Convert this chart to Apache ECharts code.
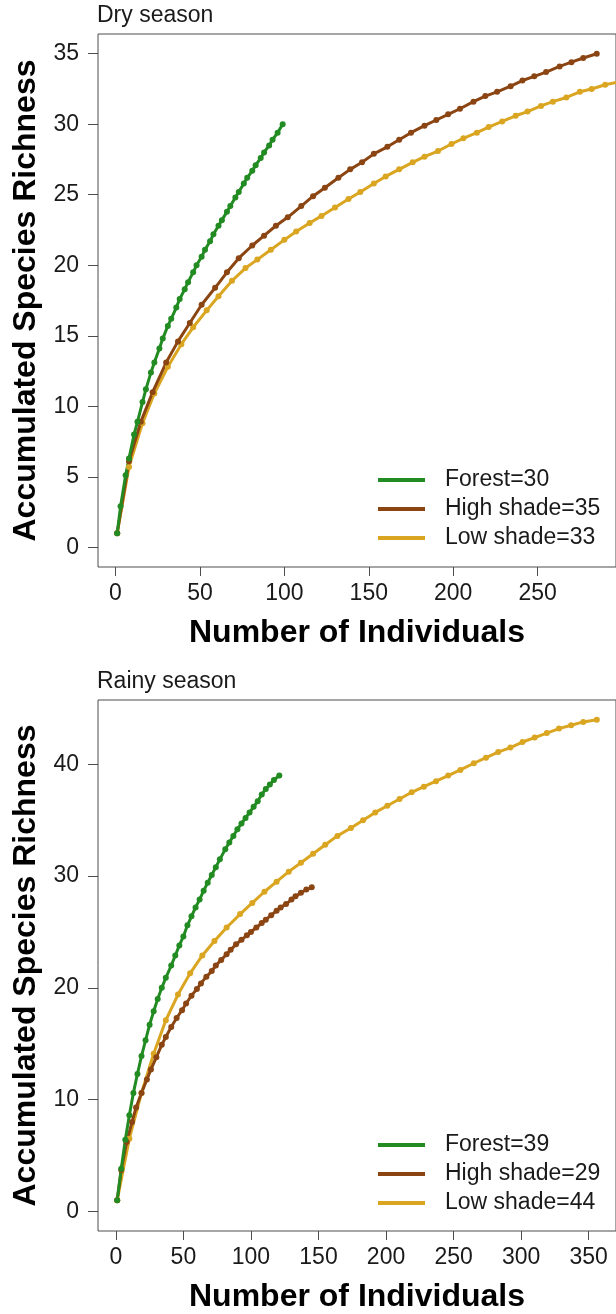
<!DOCTYPE html>
<html>
<head>
<meta charset="utf-8">
<script src="https://cdn.jsdelivr.net/npm/echarts@6/dist/echarts.min.js"></script>
<style>
  html, body { margin: 0; padding: 0; background: #fff; }
  #chart { width: 616px; height: 1314px; }
</style>
</head>
<body>
<div id="chart"></div>
<script>
// Dry season curves (sample size, accumulated richness)
const dryForestX = [1,3,6,8,11,13,16,18,21,23,26,28,31,33,36,38,41,43,46,48,51,53,56,58,61,63,66,68,71,73,76,78,81,83,86,88,91,93,96,99];
const dryForestY = [1.0,2.9,5.1,6.3,8.0,8.9,10.3,11.2,12.4,13.1,14.1,14.8,15.7,16.2,17.0,17.6,18.3,18.8,19.5,20.0,20.6,21.1,21.7,22.2,22.8,23.2,23.8,24.2,24.8,25.2,25.8,26.2,26.7,27.1,27.6,28.0,28.5,28.9,29.4,30.0];

const dryHighX = [1,8,15,22,30,37,44,51,59,66,73,81,88,95,102,110,117,124,132,139,146,153,161,168,175,183,190,197,204,212,219,226,234,241,248,255,263,270,277,285];
const dryHighY = [1.0,6.1,8.9,11.0,13.1,14.6,15.9,17.2,18.4,19.5,20.5,21.4,22.1,22.8,23.4,24.2,24.9,25.5,26.2,26.8,27.3,27.9,28.4,28.9,29.4,29.9,30.3,30.7,31.1,31.6,32.0,32.3,32.7,33.1,33.4,33.7,34.1,34.4,34.7,35.0];

const dryLowX = [1,8,16,23,31,39,46,54,61,69,77,84,92,100,107,115,122,130,138,145,153,160,168,176,183,191,199,206,214,221,229,237,244,252,259,267,275,282,290,298];
const dryLowY = [1.0,5.7,8.8,10.9,12.8,14.4,15.6,16.8,17.8,18.9,19.8,20.4,21.1,21.8,22.4,23.0,23.5,24.1,24.7,25.2,25.8,26.3,26.8,27.3,27.7,28.1,28.6,29.0,29.4,29.8,30.2,30.6,30.9,31.3,31.6,31.9,32.3,32.5,32.8,33.0];

// Rainy season curves
const rainForestX = [1,4,7,10,13,16,19,22,25,28,31,34,37,41,44,47,50,53,56,59,62,65,68,71,74,77,81,84,87,90,93,96,99,102,105,108,111,114,117,121];
const rainForestY = [1.0,3.8,6.4,8.6,10.6,12.3,13.9,15.3,16.7,17.9,19.0,20.0,20.9,22.0,22.9,23.8,24.6,25.6,26.4,27.2,27.9,28.7,29.4,30.1,30.8,31.5,32.4,33.0,33.6,34.2,34.7,35.2,35.7,36.2,36.7,37.3,37.8,38.2,38.6,39.0];

const rainHighX = [1,4,8,12,15,19,23,26,30,34,37,41,45,49,52,56,60,63,67,71,74,78,82,85,89,93,97,100,104,108,111,115,119,122,126,130,133,137,141,145];
const rainHighY = [1.0,3.7,6.2,8.0,9.3,10.6,11.8,12.7,13.8,14.9,15.6,16.5,17.3,18.0,18.6,19.3,19.9,20.4,21.0,21.5,22.0,22.5,23.0,23.4,23.9,24.3,24.7,25.0,25.4,25.8,26.1,26.5,26.9,27.2,27.5,27.9,28.2,28.5,28.8,29.0];

const rainLowX = [1,10,19,28,37,46,55,64,73,82,92,101,110,119,128,137,146,155,164,174,183,192,201,210,219,228,237,246,255,265,274,283,292,301,310,319,328,337,346,356];
const rainLowY = [1.0,6.5,10.6,14.1,17.1,19.4,21.3,22.9,24.2,25.4,26.6,27.6,28.6,29.5,30.4,31.2,32.0,32.8,33.6,34.3,35.0,35.7,36.3,36.9,37.5,38.0,38.5,39.0,39.5,40.1,40.6,41.1,41.5,42.0,42.4,42.8,43.2,43.5,43.8,44.0];

const dryTicksX = [0, 50, 100, 150, 200, 250];
const dryTicksY = [0, 5, 10, 15, 20, 25, 30, 35];
const rainTicksX = [0, 50, 100, 150, 200, 250, 300, 350];
const rainTicksY = [0, 10, 20, 30, 40];

const dryNames = ["Forest=30", "High shade=35", "Low shade=33"];
const rainNames = ["Forest=39", "High shade=29", "Low shade=44"];

const GREEN = "#228B22";
const BROWN = "#8B4513";
const GOLD = "#DAA520";
const FONT = "Liberation Sans, Arial, Helvetica, sans-serif";

const zip = (xs, ys) => xs.map((x, i) => [x, ys[i]]);

const chart = echarts.init(document.getElementById("chart"), null, { renderer: "canvas" });

const xAxisBase = (ticks, min, max, grid) => ({
  type: "value",
  gridIndex: grid,
  min: min,
  max: max,
  position: "bottom",
  axisLine: { show: false, onZero: false },
  splitLine: { show: false },
  axisTick: { show: true, inside: false, length: 9, customValues: ticks, lineStyle: { color: "#4d4d4d", width: 1 } },
  axisLabel: { customValues: ticks, fontSize: 23, color: "#1a1a1a", fontFamily: FONT, margin: 15 },
  name: "Number of Individuals",
  nameLocation: "middle",
  nameGap: 50,
  nameTextStyle: { fontSize: 32, fontWeight: "bold", color: "#000", fontFamily: FONT },
});

const yAxisBase = (ticks, min, max, grid) => ({
  type: "value",
  gridIndex: grid,
  min: min,
  max: max,
  position: "left",
  axisLine: { show: false, onZero: false },
  splitLine: { show: false },
  axisTick: { show: true, inside: false, length: 10, customValues: ticks, lineStyle: { color: "#4d4d4d", width: 1 } },
  axisLabel: { customValues: ticks, fontSize: 23, color: "#1a1a1a", fontFamily: FONT, margin: 19 },
  name: "Accumulated Species Richness",
  nameLocation: "middle",
  nameGap: 55,
  nameTextStyle: { fontSize: 32, fontWeight: "bold", color: "#000", fontFamily: FONT },
});

const lineSeries = (name, xs, ys, color, idx) => ({
  name: name,
  type: "line",
  xAxisIndex: idx,
  yAxisIndex: idx,
  data: zip(xs, ys),
  symbol: "circle",
  symbolSize: 6,
  showAllSymbol: true,
  clip: true,
  lineStyle: { color: color, width: 3 },
  itemStyle: { color: color },
  emphasis: { disabled: true },
});

const legendBase = (names, top) => ({
  data: names,
  orient: "vertical",
  left: 378,
  top: top,
  padding: 0,
  icon: "rect",
  itemWidth: 47,
  itemHeight: 4,
  itemGap: 5,
  selectedMode: false,
  textStyle: { fontSize: 23, lineHeight: 24, color: "#1a1a1a", fontFamily: FONT, padding: [0, 0, 0, 15] },
});

const option = {
  animation: false,
  backgroundColor: "#fff",
  title: [
    { text: "Dry season", left: 97, top: 4, padding: 0, textStyle: { fontSize: 23, fontWeight: "normal", color: "#1a1a1a", fontFamily: FONT } },
    { text: "Rainy season", left: 97, top: 670, padding: 0, textStyle: { fontSize: 23, fontWeight: "normal", color: "#1a1a1a", fontFamily: FONT } },
  ],
  grid: [
    { left: 98, top: 34, width: 522, height: 533, show: true, borderColor: "#4d4d4d", borderWidth: 1, backgroundColor: "transparent" },
    { left: 98, top: 700, width: 522, height: 532, show: true, borderColor: "#4d4d4d", borderWidth: 1, backgroundColor: "transparent" },
  ],
  xAxis: [
    xAxisBase(dryTicksX, -10.36, 296.4, 0),
    xAxisBase(rainTicksX, -13.2, 370.2, 1),
  ],
  yAxis: [
    yAxisBase(dryTicksY, -1.4, 36.4, 0),
    yAxisBase(rainTicksY, -1.76, 45.76, 1),
  ],
  legend: [
    legendBase(dryNames, 468),
    legendBase(rainNames, 1133),
  ],
  series: [
    lineSeries(dryNames[2], dryLowX, dryLowY, GOLD, 0),
    lineSeries(dryNames[1], dryHighX, dryHighY, BROWN, 0),
    lineSeries(dryNames[0], dryForestX, dryForestY, GREEN, 0),
    lineSeries(rainNames[2], rainLowX, rainLowY, GOLD, 1),
    lineSeries(rainNames[1], rainHighX, rainHighY, BROWN, 1),
    lineSeries(rainNames[0], rainForestX, rainForestY, GREEN, 1),
  ],
};

chart.setOption(option);
</script>
</body>
</html>
